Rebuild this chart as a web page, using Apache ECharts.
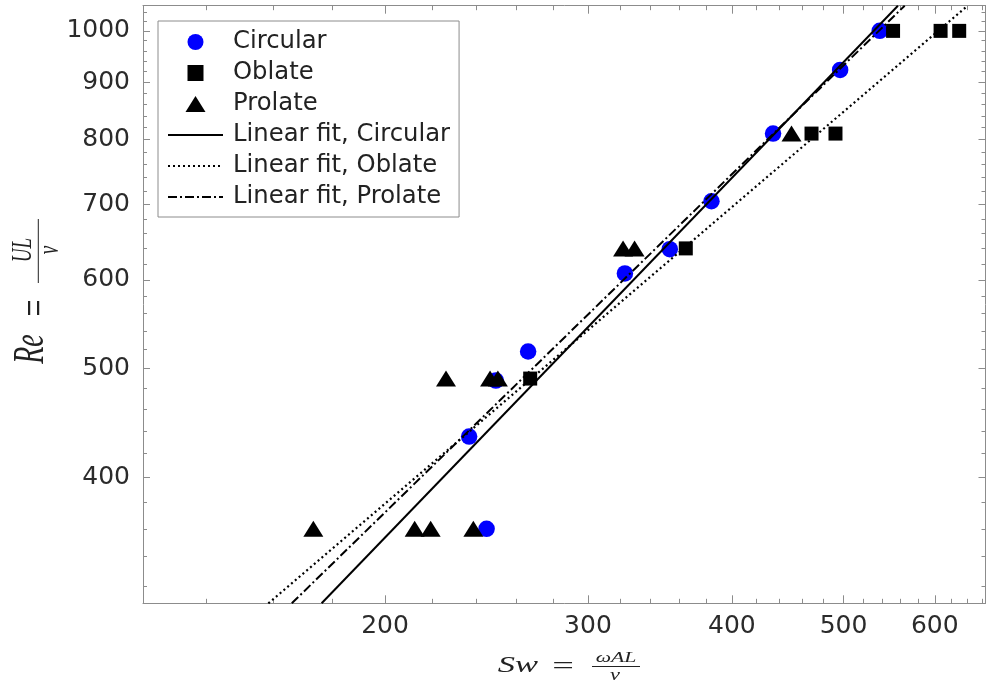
<!DOCTYPE html>
<html>
<head>
<meta charset="utf-8">
<script src="https://cdn.jsdelivr.net/npm/echarts@6/dist/echarts.min.js"></script>
<style>
html,body{margin:0;padding:0;background:#fff;}
#chart{width:987px;height:687px;}
</style>
</head>
<body>
<div id="chart"></div>
<script>
// ---- data (Sw, Re) ----
const circularSw = [245, 236.6, 249.6, 266.2, 323, 353.3, 384, 434.3, 496.6, 537.5];
const circularRe = [360, 435, 488, 518, 608, 639, 705, 810, 923, 1000];
const oblateSw = [267.3, 364.8, 469, 492, 552, 607, 630];
const oblateRe = [490, 640, 810, 810, 1000, 1000, 1000];
const prolateSw = [173.3, 212.2, 219.1, 238.6, 225.9, 246.7, 250.6, 321.8, 329.3, 450.6];
const prolateRe = [360, 360, 360, 360, 490, 490, 490, 640, 640, 810];
// fitted lines (end points)
const fitCircularSw = [176.2, 557.4];
const fitCircularRe = [309, 1053];
const fitOblateSw = [158.4, 639.3];
const fitOblateRe = [309, 1051];
const fitProlateSw = [166.0, 565.0];
const fitProlateRe = [309, 1053];
// axes
const xMin = 123.3, xMax = 664;
const yMin = 309, yMax = 1053;
const xMajorTicks = [200, 300, 400, 500, 600];
const xMinorTicks = [140, 160, 180, 220, 240, 260, 280, 320, 340, 360, 380, 420, 440, 460, 480, 520, 540, 560, 580, 620, 640, 660];
const yMajorTicks = [400, 500, 600, 700, 800, 900, 1000];
const yMinorTicks = [320, 340, 360, 380, 420, 440, 460, 480, 520, 540, 560, 580, 620, 640, 660, 680, 720, 740, 760, 780, 820, 840, 860, 880, 920, 940, 960, 980, 1020, 1040];
const seriesNames = ['Circular', 'Oblate', 'Prolate', 'Linear fit, Circular', 'Linear fit, Oblate', 'Linear fit, Prolate'];

const zip = (a, b) => a.map((v, i) => [v, b[i]]);

const axisColor = '#8c8c8c';
const labelColor = '#2b2b2b';
const tickFont = {fontFamily: 'DejaVu Sans', fontSize: 25, color: labelColor, formatter: v => String(Math.round(v))};

function xAx(pos, ticks, len, showLine, showLabel) {
  return {
    type: 'log', logBase: 10, position: pos, min: xMin, max: xMax,
    axisLine: {show: showLine, onZero: false, lineStyle: {color: axisColor, width: 1}},
    axisTick: {show: true, inside: true, length: len, customValues: ticks, lineStyle: {color: axisColor, width: 1}},
    axisLabel: Object.assign({show: showLabel, margin: 11, customValues: ticks}, tickFont),
    splitLine: {show: false}, minorTick: {show: false}
  };
}
function yAx(pos, ticks, len, showLine, showLabel) {
  return {
    type: 'log', logBase: 10, position: pos, min: yMin, max: yMax,
    axisLine: {show: showLine, onZero: false, lineStyle: {color: axisColor, width: 1}},
    axisTick: {show: true, inside: true, length: len, customValues: ticks, lineStyle: {color: axisColor, width: 1}},
    axisLabel: Object.assign({show: showLabel, margin: 13, customValues: ticks}, tickFont),
    splitLine: {show: false}, minorTick: {show: false}
  };
}

const chart = echarts.init(document.getElementById('chart'), null, {renderer: 'canvas'});

const serif = '"Liberation Serif", "DejaVu Serif", serif';
function t(txt, x, y, size, italic, rot, sx, sy) {
  return {
    type: 'text', x: x, y: y, rotation: rot || 0, scaleX: sx || 1, scaleY: sy || 1, silent: true,
    style: {text: txt, fill: '#222', font: (italic ? 'italic ' : '') + size + 'px ' + serif, textAlign: 'center', textVerticalAlign: 'middle', align: 'center', verticalAlign: 'middle'}
  };
}
const R = Math.PI / 2;
const graphics = [
  // x title: Sw = ωAL / ν
  t('Sw', 518, 666, 23, true, 0, 1.5, 1),
  t('=', 563, 667, 24, false, 0, 1.6, 1),
  t('ωAL', 616, 658, 15, true, 0, 1.45, 1),
  {type: 'line', silent: true, shape: {x1: 592, y1: 666.5, x2: 640, y2: 666.5}, style: {stroke: '#222', lineWidth: 1}},
  t('ν', 615, 676, 16, true, 0, 1.4, 1),
  // y title: Re = UL / ν
  t('Re', 32, 349, 28, true, R, 1, 1.55),
  t('=', 36.5, 308, 30, false, R, 1, 1.5),
  t('UL', 23, 250, 19, true, R, 1, 1.6),
  {type: 'line', silent: true, shape: {x1: 38.3, y1: 219, x2: 38.3, y2: 283}, style: {stroke: '#222', lineWidth: 1}},
  t('ν', 50, 250, 19, true, R, 1, 1.5)
];

const hidden = {color: 'rgba(0,0,0,0)', opacity: 0, borderWidth: 0};
const option = {
  backgroundColor: '#fff',
  animation: false,
  grid: {left: 143, right: 1.5, top: 5.7, bottom: 83.7, containLabel: false, outerBoundsMode: 'none'},
  xAxis: [
    xAx('bottom', xMajorTicks, 8, true, true),
    xAx('bottom', xMinorTicks, 4.5, false, false),
    xAx('top', xMajorTicks, 8, true, false),
    xAx('top', xMinorTicks, 4.5, false, false)
  ],
  yAxis: [
    yAx('left', yMajorTicks, 7, true, true),
    yAx('left', yMinorTicks, 4, false, false),
    yAx('right', yMajorTicks, 7, true, false),
    yAx('right', yMinorTicks, 4, false, false)
  ],
  legend: {
    show: true, orient: 'vertical', left: 158, top: 21,
    padding: [9, 9, 8, 9], itemGap: 7, itemWidth: 55, itemHeight: 16,
    backgroundColor: '#fff', borderColor: '#8c8c8c', borderWidth: 1,
    selectedMode: false, symbolKeepAspect: true,
    textStyle: {fontFamily: 'DejaVu Sans', fontSize: 24.3, color: '#222', padding: [0, 0, 0, 5]},
    data: [
      {name: seriesNames[0]},
      {name: seriesNames[1], icon: 'path://M0 0H14V14H0Z'},
      {name: seriesNames[2], icon: 'path://M10 0L20 16L0 16Z'},
      {name: seriesNames[3], itemStyle: hidden},
      {name: seriesNames[4], itemStyle: hidden},
      {name: seriesNames[5], itemStyle: hidden}
    ]
  },
  series: [
    {name: seriesNames[0], type: 'scatter', data: zip(circularSw, circularRe), symbol: 'circle', symbolSize: 16.5, itemStyle: {color: '#0000ff', opacity: 1}},
    {name: seriesNames[1], type: 'scatter', data: zip(oblateSw, oblateRe), symbol: 'rect', symbolSize: 14, itemStyle: {color: '#000', opacity: 1}},
    {name: seriesNames[2], type: 'scatter', data: zip(prolateSw, prolateRe), symbol: 'triangle', symbolSize: [20, 16], itemStyle: {color: '#000', opacity: 1}},
    {name: seriesNames[3], type: 'line', data: zip(fitCircularSw, fitCircularRe), symbol: 'none', lineStyle: {color: '#000', width: 2, type: 'solid'}, itemStyle: {color: '#000'}},
    {name: seriesNames[4], type: 'line', data: zip(fitOblateSw, fitOblateRe), symbol: 'none', lineStyle: {color: '#000', width: 2.2, type: [2, 3]}, itemStyle: {color: '#000'}},
    {name: seriesNames[5], type: 'line', data: zip(fitProlateSw, fitProlateRe), symbol: 'none', lineStyle: {color: '#000', width: 2, type: [9, 3, 2, 3]}, itemStyle: {color: '#000'}}
  ],
  graphic: graphics
};
chart.setOption(option);
</script>
</body>
</html>
